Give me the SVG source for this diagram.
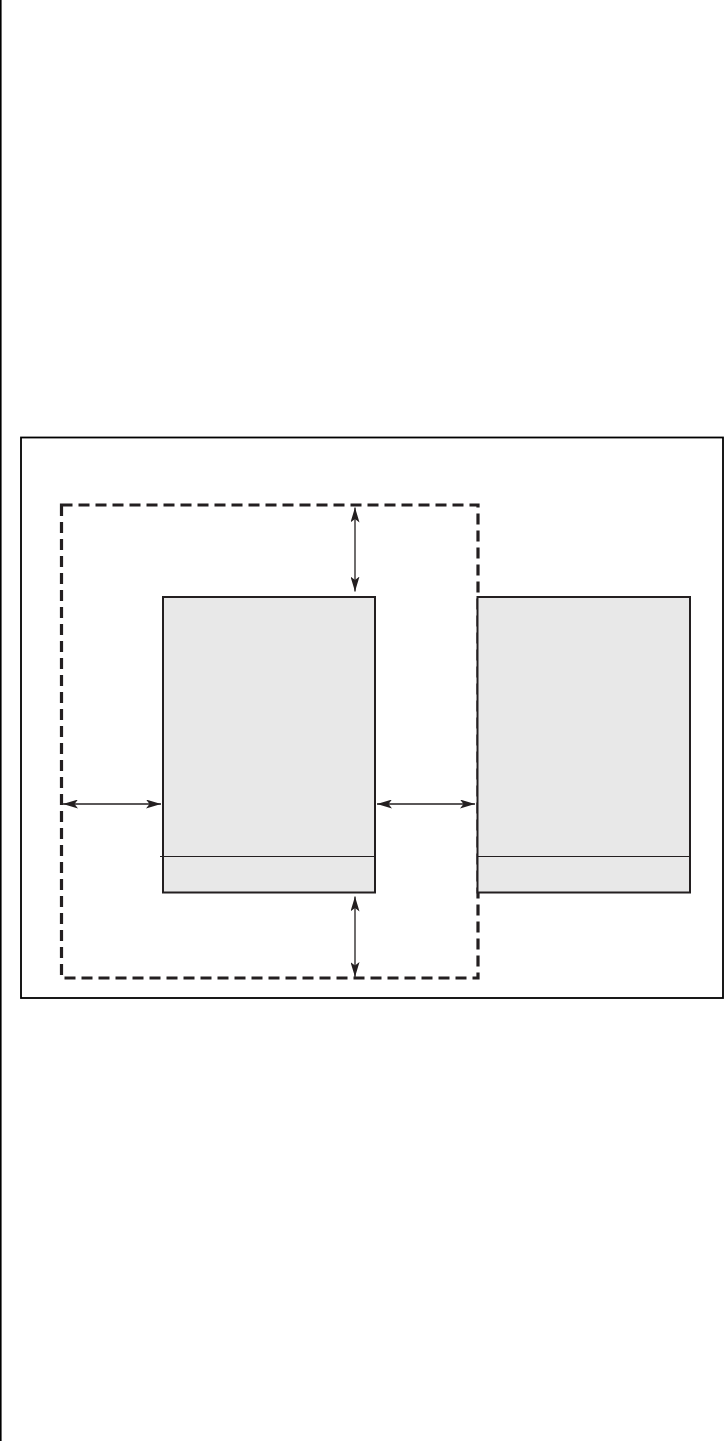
<svg xmlns="http://www.w3.org/2000/svg" width="724" height="1441" viewBox="0 0 724 1441">
<style>
.frame{fill:none;stroke:#000;stroke-width:1.8}
.dash{fill:none;stroke:#231f20;stroke-width:3.2;stroke-dasharray:11 6}
.box{fill:#e8e8e8;stroke:#231f20;stroke-width:2}
.div{stroke:#231f20;stroke-width:1.2;fill:none}
.conn{stroke:#231f20;stroke-width:1.3;fill:none;marker-start:url(#ah);marker-end:url(#ah)}
</style>
<defs>
<marker id="ah" viewBox="0 0 15 9" refX="15" refY="4.5" markerWidth="15" markerHeight="9" markerUnits="userSpaceOnUse" orient="auto-start-reverse">
<path d="M0,0 L15,4.5 L0,9 L3.5,4.5 Z" fill="#231f20"/>
</marker>
</defs>
<rect width="724" height="1441" fill="#fff"/>
<line x1="0.8" y1="0" x2="0.8" y2="1441" stroke="#000" stroke-width="1.6"/>
<rect class="frame" x="21" y="437.5" width="702" height="560.5"/>
<g id="boundary"><rect class="dash" x="61.5" y="505" width="416.5" height="473"/></g>
<g id="box1">
<rect class="box" x="163" y="597" width="212" height="295.5"/>
<line class="div" x1="160" y1="856.5" x2="375" y2="856.5"/>
</g>
<g id="box2">
<rect class="box" x="477.5" y="597" width="212.5" height="295.5"/>
<line class="div" x1="477.5" y1="856.5" x2="690" y2="856.5"/>
</g>
<g id="connectors">
<line class="conn" x1="355" y1="507.5" x2="355" y2="591.5"/>
<line class="conn" x1="355" y1="896.5" x2="355" y2="977"/>
<line class="conn" x1="63" y1="804" x2="161" y2="804"/>
<line class="conn" x1="377" y1="804" x2="475" y2="804"/>
</g>
</svg>
